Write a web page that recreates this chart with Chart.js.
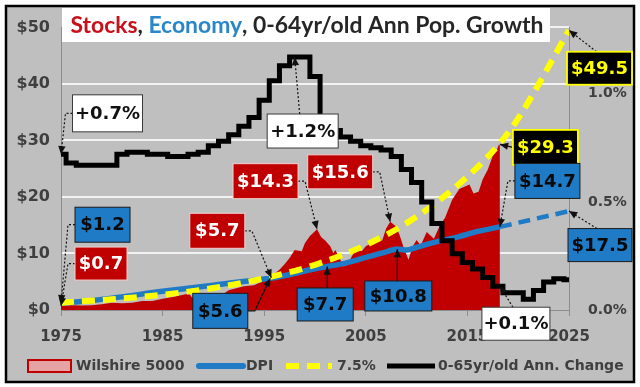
<!DOCTYPE html>
<html>
<head>
<meta charset="utf-8">
<script src="https://cdn.jsdelivr.net/npm/chart.js@4.4.1/dist/chart.umd.min.js"></script>
<style>
  html, body { margin: 0; padding: 0; background: #fff; }
  #wrap { position: relative; width: 640px; height: 387px; }
</style>
</head>
<body>
<div id="wrap"><canvas id="chart"></canvas></div>
<script>
// ---- data ----
const xTicks = [1975, 1985, 1995, 2005, 2015, 2025];
const dollarTicks = [0, 10, 20, 30, 40, 50];
const pctTicks = [0, 0.5, 1.0];

// 0-64 yr/old annual population change, % (right axis)
const popYears = [1975, 1976, 1977, 1978, 1979, 1980, 1981, 1982, 1983, 1984, 1985, 1986, 1987, 1988, 1989,
  1990, 1991, 1992, 1993, 1994, 1995, 1996, 1997, 1998, 1999, 2000, 2001, 2002, 2003, 2004,
  2005, 2006, 2007, 2008, 2009, 2010, 2011, 2012, 2013, 2014, 2015, 2016, 2017, 2018, 2019,
  2020, 2021, 2022, 2023, 2024, 2025];
const popGrowth = [0.72, 0.68, 0.67, 0.67, 0.67, 0.67, 0.72, 0.73, 0.73, 0.72, 0.72, 0.71, 0.71, 0.72, 0.73,
  0.76, 0.78, 0.81, 0.85, 0.89, 0.97, 1.06, 1.13, 1.17, 1.17, 1.08, 0.86, 0.83, 0.80, 0.78,
  0.76, 0.75, 0.74, 0.71, 0.65, 0.59, 0.50, 0.40, 0.32, 0.26, 0.22, 0.19, 0.15, 0.11, 0.08,
  0.08, 0.05, 0.09, 0.13, 0.145, 0.14];

// Wilshire 5000 total market cap, $T (left axis)
const stockYears = [1975, 1976, 1977, 1978, 1979, 1980, 1981, 1982, 1983, 1984, 1985, 1986, 1987.6, 1987.9,
  1989, 1990, 1990.8, 1991.5, 1993, 1994, 1995, 1995.7, 1996, 1996.5, 1997, 1997.5, 1998, 1998.7,
  1999, 1999.5, 2000.2, 2000.6, 2001, 2001.5, 2001.8, 2002, 2002.5, 2002.8, 2003.2, 2003.6, 2004,
  2004.6, 2005, 2005.7, 2006.3, 2006.6, 2007, 2007.4, 2007.9, 2008.3, 2008.7, 2009.2, 2009.6, 2010,
  2010.4, 2011, 2011.7, 2012.3, 2012.8, 2013.5, 2014.2, 2014.7, 2015.2, 2015.6, 2016.1, 2016.5,
  2017, 2017.5, 2017.9, 2018.1, 2018.2];
const stockValues = [0.7, 0.85, 0.8, 0.85, 1.0, 1.3, 1.2, 1.3, 1.6, 1.6, 2.0, 2.3, 2.9, 2.2,
  2.8, 2.8, 2.6, 3.5, 4.2, 4.4, 5.2, 5.7, 6.4, 7.1, 8.1, 9.2, 10.6, 10.4,
  11.8, 13.1, 14.3, 12.9, 12.3, 11.3, 10.1, 10.6, 8.9, 7.7, 8.0, 9.4, 10.6,
  10.4, 11.3, 12.0, 12.9, 12.2, 14.4, 15.6, 14.9, 13.4, 11.2, 8.9, 11.2, 12.4,
  11.4, 13.8, 12.6, 15.0, 16.3, 19.5, 21.4, 21.8, 22.2, 20.6, 20.9, 23.1,
  24.8, 27.3, 28.3, 29.3, 29.1];

// disposable personal income, $T (left axis)
const dpiYears = [1975, 1977, 1980, 1985, 1990, 1995, 1995.6, 2000, 2001.2, 2003, 2005, 2007, 2008.1, 2009, 2010, 2012, 2014, 2016, 2018.2];
const dpiValues = [1.2, 1.5, 2.1, 3.3, 4.4, 5.5, 5.6, 7.3, 7.7, 8.3, 9.3, 10.3, 10.8, 10.6, 11.1, 12.1, 12.9, 13.9, 14.7];
const dpiProjYears = [2018.2, 2025];
const dpiProjValues = [14.7, 17.5];

// 7.5% growth path, $T (left axis)
const trendYears = [1975, 1980, 1985, 1990, 1995, 2000, 2005, 2010, 2015, 2018.1, 2020, 2025];
const trendValues = [1.3, 1.9, 2.7, 3.9, 5.6, 8.0, 11.5, 16.5, 23.6, 29.3, 33.9, 49.5];

// ---- look ----
const FONT = 'Lato, "Open Sans", sans-serif';
const WIDE = '"DejaVu Sans", Verdana, sans-serif';
const RED = '#c00000';
const BLUE = '#1f7bc6';
const YELLOW = '#ffff00';
const GRAY_BG = '#bfbfbf';
const AXIS = '#8c8c8c';
const TICK_TXT = '#3f3f3f';

const pts = (xs, ys) => xs.map((x, i) => ({ x: x, y: ys[i] }));

// callouts: target in data units, box offset from target in pixels
const callouts = [
  { text: '+0.7%', x: 1975, y: 0.72, axis: 'y1', dx: 46.5, dy: -41, w: 70, h: 37, kind: 'white', from: 'left', dotted: true },
  { text: '+1.2%', x: 1998, y: 1.17, axis: 'y1', dx: 8, dy: 74, w: 71, h: 34, kind: 'white', from: 'top', dotted: true },
  { text: '$14.3', x: 2000.2, y: 14.3, axis: 'y', dx: -51.5, dy: -48, w: 65, h: 35, kind: 'red', from: 'right', dotted: true },
  { text: '$15.6', x: 2007.4, y: 15.6, axis: 'y', dx: -50, dy: -50, w: 65, h: 34, kind: 'red', from: 'right', dotted: true },
  { text: '$5.7', x: 1995.7, y: 5.7, axis: 'y', dx: -54, dy: -47, w: 55, h: 35, kind: 'red', from: 'right', dotted: true },
  { text: '$1.2', x: 1975, y: 1.2, axis: 'y', dx: 41.5, dy: -78.5, w: 55, h: 35, kind: 'blue', from: 'left', dotted: true },
  { text: '$0.7', x: 1975, y: 0.7, axis: 'y', dx: 40, dy: -42.5, w: 52, h: 33, kind: 'red', from: 'left', dotted: true },
  { text: '$5.6', x: 1995.6, y: 5.6, axis: 'y', dx: -50, dy: 32.5, w: 55, h: 35, kind: 'blue', from: 'right', dotted: false },
  { text: '$7.7', x: 2001.2, y: 7.7, axis: 'y', dx: -2, dy: 38, w: 56, h: 33, kind: 'blue', from: 'topAtTarget', dotted: false },
  { text: '$10.8', x: 2008.1, y: 10.8, axis: 'y', dx: 1, dy: 47, w: 67, h: 30, kind: 'blue', from: 'topAtTarget', dotted: false },
  { text: '+0.1%', x: 2018.2, y: 0.11, axis: 'y1', dx: 16, dy: 37.5, w: 68, h: 33, kind: 'white', from: 'top', dotted: true },
  { text: '$29.3', x: 2018.2, y: 29.3, axis: 'y', dx: 45.5, dy: 3, w: 65, h: 35, kind: 'black', from: 'leftDirect', dotted: false },
  { text: '$14.7', x: 2018.2, y: 14.7, axis: 'y', dx: 47.5, dy: -46, w: 65, h: 35, kind: 'blue', from: 'left', dotted: true },
  { text: '$49.5', x: 2025, y: 49.5, axis: 'y', dx: 30.5, dy: 38, w: 65, h: 33, kind: 'black', from: 'top', dotted: true },
  { text: '$17.5', x: 2025, y: 17.5, axis: 'y', dx: 31, dy: 34, w: 64, h: 33, kind: 'blue', from: 'top', dotted: true }
];

const boxStyles = {
  white: { fill: '#ffffff', stroke: '#3a3a3a', text: '#111111' },
  red: { fill: RED, stroke: '#f2d0d0', text: '#ffffff' },
  blue: { fill: BLUE, stroke: '#1a1a1a', text: '#0a0a0a' },
  black: { fill: '#000000', stroke: YELLOW, text: YELLOW }
};

function arrowHead(ctx, from, to, size) {
  const a = Math.atan2(to.y - from.y, to.x - from.x);
  ctx.beginPath();
  ctx.moveTo(to.x, to.y);
  ctx.lineTo(to.x - size * Math.cos(a - 0.42), to.y - size * Math.sin(a - 0.42));
  ctx.lineTo(to.x - size * Math.cos(a + 0.42), to.y - size * Math.sin(a + 0.42));
  ctx.closePath();
  ctx.fill();
}

const frame = {
  id: 'frame',
  beforeDraw(chart) {
    const c = chart.ctx;
    c.save();
    c.fillStyle = '#ffffff';
    c.fillRect(0, 0, chart.width, chart.height);
    c.fillStyle = GRAY_BG;
    c.fillRect(6, 6, 628, 376);
    c.strokeStyle = '#000';
    c.lineWidth = 2.5;
    c.strokeRect(6, 6, 628, 376);
    c.restore();
  },
  afterDraw(chart) {
    const c = chart.ctx;
    const s = chart.scales;
    c.save();

    // title box, text sized to fill the same width as the original
    c.fillStyle = '#fff';
    c.fillRect(62, 8, 488, 34);
    const parts = [['Stocks', '#c8101a'], [', ', '#262626'], ['Economy', '#2a86c8'], [', 0-64yr/old Ann Pop. Growth', '#262626']];
    c.font = 'bold 20px ' + FONT;
    const w20 = parts.reduce((t, p) => t + c.measureText(p[0]).width, 0);
    const fs = Math.min(24, 20 * 474 / w20);
    c.font = 'bold ' + fs.toFixed(1) + 'px ' + FONT;
    c.textBaseline = 'middle';
    c.textAlign = 'left';
    const total = parts.reduce((t, p) => t + c.measureText(p[0]).width, 0);
    let tx = 307 - total / 2;
    parts.forEach(p => {
      c.fillStyle = p[1];
      c.fillText(p[0], tx, 26);
      tx += c.measureText(p[0]).width;
    });

    // callouts
    callouts.forEach(o => {
      const px = s.x.getPixelForValue(o.x);
      const py = s[o.axis].getPixelForValue(o.y);
      const cx = px + o.dx, cy = py + o.dy;
      const l = cx - o.w / 2, t = cy - o.h / 2;
      let path;
      if (o.from === 'left') path = [{ x: l, y: cy }, { x: l - 7, y: cy }, { x: px, y: py }];
      else if (o.from === 'right') path = [{ x: l + o.w, y: cy }, { x: l + o.w + 7, y: cy }, { x: px, y: py }];
      else if (o.from === 'leftDirect') path = [{ x: l, y: cy }, { x: px, y: py }];
      else if (o.from === 'topAtTarget') path = [{ x: px, y: t }, { x: px, y: py }];
      else path = [{ x: cx - 3, y: t }, { x: px, y: py }];

      c.strokeStyle = '#111';
      c.fillStyle = '#111';
      c.lineWidth = 1.2;
      c.setLineDash(o.dotted ? [2, 2] : []);
      c.beginPath();
      c.moveTo(path[0].x, path[0].y);
      for (let i = 1; i < path.length; i++) c.lineTo(path[i].x, path[i].y);
      c.stroke();
      c.setLineDash([]);
      arrowHead(c, path[path.length - 2], path[path.length - 1], 9);

      const st = boxStyles[o.kind];
      c.fillStyle = st.fill;
      c.fillRect(l, t, o.w, o.h);
      c.strokeStyle = st.stroke;
      c.lineWidth = o.kind === 'black' ? 1.8 : 1;
      c.strokeRect(l, t, o.w, o.h);
      c.fillStyle = st.text;
      c.font = 'bold 18px ' + WIDE;
      c.textAlign = 'center';
      c.textBaseline = 'middle';
      c.fillText(o.text, cx, cy + 1);
    });

    // legend
    const ly = 366;
    c.font = 'bold 14px ' + WIDE;
    c.textAlign = 'left';
    c.textBaseline = 'middle';
    c.fillStyle = '#e6a3a3';
    c.fillRect(28, ly - 6, 43, 12);
    c.strokeStyle = RED;
    c.lineWidth = 2;
    c.strokeRect(28, ly - 6, 43, 12);
    c.fillStyle = TICK_TXT;
    c.fillText('Wilshire 5000', 76, ly);

    c.lineCap = 'round';
    c.strokeStyle = BLUE;
    c.lineWidth = 6;
    c.beginPath(); c.moveTo(199, ly); c.lineTo(243, ly); c.stroke();
    c.fillText('DPI', 246, ly);

    c.lineCap = 'butt';
    c.strokeStyle = YELLOW;
    c.setLineDash([13, 8]);
    c.beginPath(); c.moveTo(286, ly); c.lineTo(332, ly); c.stroke();
    c.setLineDash([]);
    c.fillText('7.5%', 337, ly);

    c.strokeStyle = '#000';
    c.lineWidth = 5;
    c.beginPath(); c.moveTo(387, ly); c.lineTo(435, ly); c.stroke();
    c.fillText('0-65yr/old Ann. Change', 438, ly);

    c.restore();
  }
};

new Chart(document.getElementById('chart'), {
  type: 'line',
  data: {
    datasets: [
      {
        label: '0-65yr/old Ann. Change',
        data: pts(popYears, popGrowth),
        yAxisID: 'y1',
        borderColor: '#000',
        borderWidth: 5,
        stepped: 'middle',
        pointRadius: 0,
        fill: false
      },
      {
        label: '7.5%',
        data: pts(trendYears, trendValues),
        yAxisID: 'y',
        borderColor: YELLOW,
        borderWidth: 6,
        borderDash: [13, 8],
        cubicInterpolationMode: 'monotone',
        pointRadius: 0,
        fill: false
      },
      {
        label: 'DPI',
        data: pts(dpiYears, dpiValues),
        yAxisID: 'y',
        borderColor: BLUE,
        borderWidth: 5.5,
        cubicInterpolationMode: 'monotone',
        pointRadius: 0,
        fill: false
      },
      {
        label: 'DPI projection',
        data: pts(dpiProjYears, dpiProjValues),
        yAxisID: 'y',
        borderColor: BLUE,
        borderWidth: 4.5,
        borderDash: [12, 7],
        pointRadius: 0,
        fill: false
      },
      {
        label: 'Wilshire 5000',
        data: pts(stockYears, stockValues),
        yAxisID: 'y',
        borderWidth: 0,
        borderColor: RED,
        backgroundColor: RED,
        pointRadius: 0,
        fill: 'origin'
      }
    ]
  },
  options: {
    responsive: true,
    maintainAspectRatio: false,
    devicePixelRatio: 1,
    animation: false,
    events: [],
    layout: { padding: { left: 7, right: 7, top: 22.5, bottom: 0 } },
    plugins: {
      legend: { display: false },
      tooltip: { enabled: false }
    },
    scales: {
      x: {
        type: 'linear',
        min: 1975,
        max: 2025,
        afterBuildTicks: (sc) => { sc.ticks = xTicks.map(v => ({ value: v })); },
        afterFit: (sc) => { sc.height = 77; },
        ticks: {
          callback: (v) => String(v),
          color: TICK_TXT,
          font: { family: WIDE, size: 15, weight: 'bold' },
          padding: 12,
          maxRotation: 0,
          autoSkip: false
        },
        grid: { drawOnChartArea: false, drawTicks: true, tickLength: 6, color: AXIS },
        border: { color: AXIS, width: 1 }
      },
      y: {
        position: 'left',
        min: 0,
        max: 50,
        afterBuildTicks: (sc) => { sc.ticks = dollarTicks.map(v => ({ value: v })); },
        afterFit: (sc) => { sc.width = 54; },
        ticks: {
          callback: (v) => '$' + v,
          color: TICK_TXT,
          font: { family: WIDE, size: 16, weight: 'bold' },
          padding: 11
        },
        grid: {
          drawTicks: false,
          lineWidth: 2,
          color: (c) => (c.tick && c.tick.value === 0 ? 'rgba(0,0,0,0)' : '#f2f2f2')
        },
        border: { color: AXIS, width: 1 }
      },
      y1: {
        position: 'right',
        min: 0,
        max: 1.307,
        afterBuildTicks: (sc) => { sc.ticks = pctTicks.map(v => ({ value: v })); },
        afterFit: (sc) => { sc.width = 64; },
        ticks: {
          callback: (v) => v.toFixed(1) + '%',
          color: TICK_TXT,
          font: { family: WIDE, size: 14, weight: 'bold' },
          padding: 19
        },
        grid: { drawOnChartArea: false, drawTicks: false },
        border: { color: AXIS, width: 1 }
      }
    }
  },
  plugins: [frame]
});
</script>
</body>
</html>
